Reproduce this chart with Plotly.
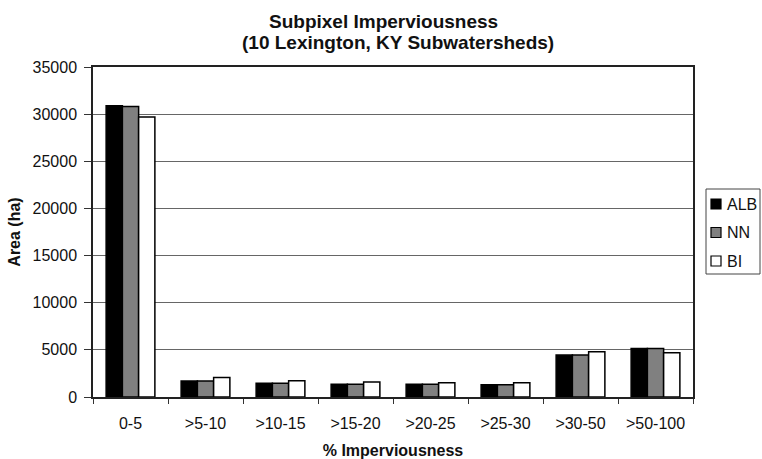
import plotly.graph_objects as go

# Area (ha) of each imperviousness class, by classification method
categories = ["0-5", ">5-10", ">10-15", ">15-20", ">20-25", ">25-30", ">30-50", ">50-100"]
alb = [30900, 1700, 1450, 1350, 1350, 1300, 4450, 5150]
nn = [30800, 1700, 1450, 1350, 1350, 1300, 4450, 5150]
bi = [29700, 2080, 1730, 1580, 1520, 1500, 4800, 4700]

series = [("ALB", alb, "#000000"), ("NN", nn, "#808080"), ("BI", bi, "#ffffff")]

FONT = "Liberation Sans, Arial, sans-serif"
W, H = 762, 459
ML, MR, MT, MB = 93, 69, 67, 62
PW, PH = W - ML - MR, H - MT - MB


def px(xp, yp):
    """Convert page pixel position to paper coordinates."""
    return (xp - ML) / PW, (H - MB - yp) / PH


fig = go.Figure()
for name, vals, color in series:
    fig.add_trace(go.Bar(
        name=name, x=categories, y=vals,
        marker=dict(color=color, line=dict(color="#000000", width=1.5)),
    ))

fig.update_layout(
    width=W, height=H,
    margin=dict(l=ML, r=MR, t=MT, b=MB),
    paper_bgcolor="white", plot_bgcolor="white",
    barmode="group", bargap=0.35, bargroupgap=0,
    font=dict(family=FONT, size=16, color="#111111"),
    showlegend=False,
    xaxis=dict(
        automargin=False,
        showline=True, linecolor="#222222", linewidth=1.5, mirror=True,
        ticks="outside", tickson="boundaries", ticklen=5, tickcolor="#333333",
        tickfont=dict(size=16), ticklabelstandoff=11,
        title=dict(text="<b>% Imperviousness</b>", font=dict(size=16), standoff=17),
    ),
    yaxis=dict(
        automargin=False,
        range=[0, 35000], dtick=5000, tickformat="d",
        showgrid=True, gridcolor="#666666", gridwidth=1,
        showline=True, linecolor="#222222", linewidth=1.5, mirror=True,
        ticks="outside", ticklen=7, tickcolor="#333333",
        tickfont=dict(size=16), ticklabelstandoff=4,
        title=dict(text="<b>Area (ha)</b>", font=dict(size=16), standoff=8),
        zeroline=False,
    ),
)

# Two-line chart title
for text, (xp, yp) in [("<b>Subpixel Imperviousness</b>", (383, 21)),
                       ("<b>(10 Lexington, KY Subwatersheds)</b>", (398, 43))]:
    tx, ty = px(xp, yp)
    fig.add_annotation(text=text, x=tx, y=ty, xref="paper", yref="paper",
                       showarrow=False, font=dict(size=19),
                       xanchor="center", yanchor="middle")

# Legend box with square swatches
bx0, by0 = px(706, 189)
bx1, by1 = px(760, 274)
fig.add_shape(type="rect", xref="paper", yref="paper",
              x0=bx0, y0=by0, x1=bx1, y1=by1,
              line=dict(color="#444444", width=1), fillcolor="white")
for i, (name, _, color) in enumerate(series):
    cy = 204 + i * 28.5
    sx0, sy0 = px(711, cy - 5)
    sx1, sy1 = px(721, cy + 5)
    fig.add_shape(type="rect", xref="paper", yref="paper",
                  x0=sx0, y0=sy0, x1=sx1, y1=sy1,
                  line=dict(color="#000000", width=1.2), fillcolor=color)
    lx, ly = px(725, cy)
    fig.add_annotation(text=name, x=lx, y=ly, xref="paper", yref="paper",
                       showarrow=False, font=dict(size=16),
                       xanchor="left", yanchor="middle")

fig.write_html("out.html")
